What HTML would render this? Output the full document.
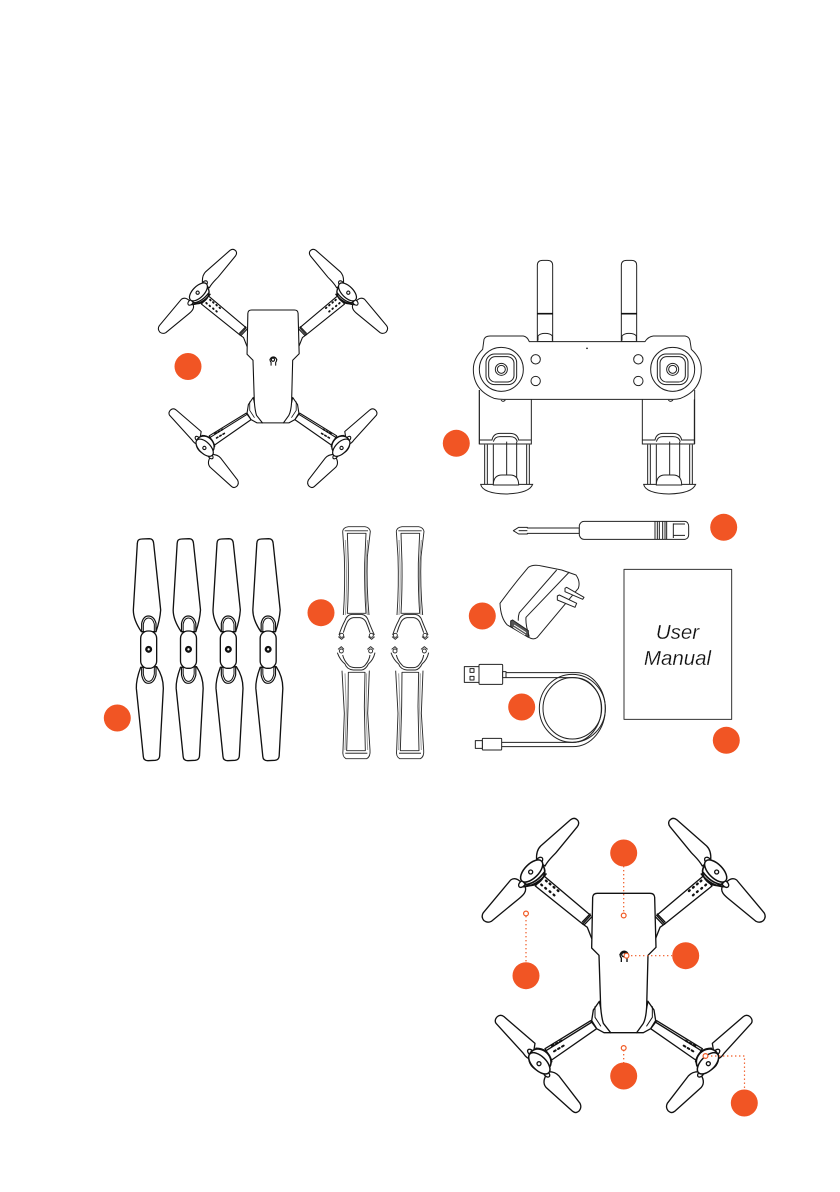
<!DOCTYPE html>
<html><head><meta charset="utf-8"><style>
html,body{margin:0;padding:0;background:#fff}
svg{display:block}
text{font-family:"Liberation Sans",sans-serif;font-style:italic;font-size:20.5px;fill:#111;text-anchor:middle;stroke:#fff;stroke-width:.22}
</style></head><body>
<svg width="840" height="1192" viewBox="0 0 840 1192" xmlns="http://www.w3.org/2000/svg">
<defs>
<g id="half" fill="#fff" stroke="#111" stroke-linejoin="round" stroke-linecap="round">
  <!-- front arm -->
  <path d="M192,198 L332,316 L308,342 L166,228Z" stroke-width="4"/>
  <path d="M307,336 L330,312 M314,343 L337,319 M308,342 L322,352 L335,385" stroke-width="4" fill="none"/>
  <path d="M198,212l2,2M209,221l2,2M221,231l2,2M233,241l2,2M184,224l2,2M196,234l2,2M209,244l2,2M221,254l2,2" stroke-width="7" fill="none"/>
  <!-- front blades -->
  <path d="M170,150C168,130 172,118 182,108L272,29Q284,20 294,32Q299,40 292,50L228,128C215,142 205,150 195,168Z" stroke-width="4"/>
  <path d="M124,218C112,205 102,203 92,210L10,308Q2,320 12,332Q22,340 34,334L118,265C130,255 140,245 136,232Z" stroke-width="4"/>
  <ellipse cx="178" cy="152" rx="12" ry="8" transform="rotate(-45 178 152)" stroke-width="4"/>
  <ellipse cx="126" cy="222" rx="12" ry="8" transform="rotate(-45 126 222)" stroke-width="4"/>
  <ellipse cx="160" cy="192" rx="38" ry="30" transform="rotate(-45 160 192)" stroke-width="5"/>
  <path d="M130,230Q170,228 198,192M136,224Q168,220 192,188" fill="none" stroke-width="5"/>
  <ellipse cx="155" cy="183" rx="42" ry="21" transform="rotate(-45 155 183)" stroke-width="4.5"/>
  <circle cx="152" cy="186" r="6" stroke-width="4"/>
  <!-- rear arm -->
  <path d="M195,716 L332,632 L350,656 L215,750Z" stroke-width="4"/>
  <path d="M198,722 L336,636" stroke-width="4" fill="none"/>
  <path d="M216,708l5,-3M228,702l5,-3M240,695l5,-3M222,724l5,-3M234,717l5,-3M246,710l5,-3" stroke-width="6" fill="none"/>
  <!-- rear blades -->
  <path d="M165,700L72,620Q62,612 52,620Q42,630 48,640L130,730C138,742 148,750 158,745Z" stroke-width="4"/>
  <path d="M205,785C222,785 230,790 237,798L300,880Q306,892 298,902Q288,912 278,904L198,832C188,820 190,805 205,785Z" stroke-width="4"/>
  <ellipse cx="152" cy="727" rx="11" ry="7" transform="rotate(45 152 727)" stroke-width="4"/>
  <ellipse cx="200" cy="792" rx="11" ry="7" transform="rotate(45 200 792)" stroke-width="4"/>
  <ellipse cx="180" cy="750" rx="36" ry="30" transform="rotate(45 180 750)" stroke-width="5"/>
  <path d="M168,715Q205,715 215,755" fill="none" stroke-width="5"/>
  <ellipse cx="178" cy="760" rx="40" ry="21" transform="rotate(45 178 760)" stroke-width="4.5"/>
  <circle cx="177" cy="761" r="6" stroke-width="4"/>
  <!-- rear shoulder -->
  <path d="M358,574 L340,600 L335,632 L350,656 L372,668 L392,668 L370,630Z" stroke-width="4"/>
  <path d="M345,590V622L362,648" fill="none" stroke-width="3"/>
</g>
<g id="drone">
  <use href="#half"/>
  <use href="#half" transform="matrix(-1 0 0 1 862 0)"/>
  <path d="M338,262Q339,250 352,250L510,250Q523,250 524,262L528,412L504,436L500,590Q498,625 490,640L470,668L392,668L370,640Q364,620 362,590L357,436L335,414Z" fill="#fff" stroke="#111" stroke-width="4" stroke-linejoin="round"/>
  <path d="M424,456V444A12,12 0 1 1 441,444V456M419,436A14,14 0 0 1 446,436" fill="none" stroke="#111" stroke-width="4"/>
  <circle cx="431" cy="434" r="6" fill="none" stroke="#111" stroke-width="4"/>
</g>
<g id="prop" fill="#fff" stroke="#111" stroke-width="4" stroke-linejoin="round">
  <path d="M112,40Q112,27 125,27L148,26Q160,26 161,40L182,240Q180,270 168,305L124,305Q100,270 100,240Z"/>
  <path d="M122,412Q108,450 109,475L130,680Q131,692 144,692L166,691Q178,690 179,678L190,475Q190,440 170,410Z"/>
  <path d="M125,305V280Q130,258 145,258Q162,258 168,280V305" fill="none" stroke-width="3.5"/>
  <path d="M130,305V282Q134,264 146,264Q158,264 163,282V305" fill="none" stroke-width="3"/>
  <path d="M125,412V435Q130,460 145,460Q162,460 168,435V412" fill="none" stroke-width="3.5"/>
  <path d="M130,412V432Q134,454 146,454Q158,454 163,432V412" fill="none" stroke-width="3"/>
  <rect x="122" y="303" width="48" height="112" rx="22"/>
  <circle cx="146" cy="358" r="7" fill="#fff" stroke-width="7"/>
</g>
<g id="guard" fill="none" stroke="#2a2a2a" stroke-width="2.8" stroke-linejoin="round">
  <!-- upper -->
  <path d="M38,34Q40,22 55,20H105Q118,22 121,34L112,110Q109,200 117,285M38,34L43,110Q46,200 40,285"/>
  <path d="M52,40H108L104,130Q103,210 108,280H52Q56,210 55,130Z"/>
  <path d="M44,32H114" stroke="#777" stroke-width="4"/>
  <path d="M46,60L49,130Q51,210 46,285M113,60L108,130Q106,210 112,285" stroke="#999"/>
  <path d="M27,345Q35,320 45,302Q50,285 65,283H95Q110,285 115,302Q122,320 133,345" stroke-width="3"/>
  <path d="M40,338Q45,320 52,306Q58,295 70,293H90Q102,295 108,306Q114,320 120,338" stroke-width="3"/>
  <circle cx="35" cy="346" r="6"/><circle cx="124" cy="346" r="6"/>
  <path d="M25,350L35,358L44,350M115,350L125,358L134,350"/>
  <!-- lower -->
  <g transform="translate(0,360)">
    <path d="M22,38Q30,60 45,72Q50,88 70,90H95Q108,88 115,72Q130,60 135,38" stroke-width="3"/>
    <path d="M38,45Q42,62 55,75Q60,82 75,83H90Q102,82 108,72Q118,60 120,45" stroke-width="3"/>
    <circle cx="34" cy="33" r="6"/><circle cx="122" cy="33" r="6"/>
    <path d="M24,28L34,20L42,28M112,28L122,20L132,28"/>
    <path d="M36,92L43,220L39,330Q36,350 48,356H110Q122,350 120,330L113,220L118,92"/>
    <path d="M55,97H105L103,200L106,332H50L54,200Z"/>
    <path d="M45,100L49,210L45,330M110,100L108,210L113,330" stroke="#999"/>
    <path d="M46,340H112" stroke="#666" stroke-width="4"/>
  </g>
</g>
<g id="stick" fill="none" stroke="#222" stroke-width="3">
  <circle r="66"/>
  <rect x="-46" y="-46" width="92" height="92" rx="26"/>
  <rect x="-38" y="-38" width="76" height="76" rx="20"/>
  <circle r="18"/><circle r="12"/>
</g>
<g id="handle" fill="#fff" stroke="#222" stroke-width="3">
  <path d="M0,-30V132H156V-2"/>
  <path d="M16,134V252M24,134V252M42,134V252M82,110V225M112,110V252M142,134V252M150,134V252"/>
  <path d="M0,120H38Q42,100 62,100H92Q114,100 118,120H156"/>
  <path d="M42,125Q46,110 62,110H92Q110,110 114,125"/>
  <path d="M4,253H160Q150,280 80,282Q10,280 4,253Z"/>
  <path d="M42,255Q42,225 68,225H92Q118,225 118,255Z"/>
</g>
</defs>

<!-- top drone -->
<use href="#drone" transform="translate(156.6,242.5) scale(.27)"/>

<!-- controller -->
<g transform="translate(440,250) scale(.33333)">
  <g fill="#fff" stroke="#222" stroke-width="3">
    <path d="M292,275V46Q292,31 308,31H322Q338,31 338,46V275Z"/>
    <path d="M544,275V46Q544,31 560,31H574Q590,31 590,46V275Z"/>
    <path d="M294,272V258Q300,250 315,250Q332,250 337,258V272M546,272V258Q552,250 567,250Q584,250 589,258V272" fill="none"/>
  </g>
  <path d="M291,191H339M543,191H591" stroke="#111" stroke-width="5"/>
  <use href="#handle" transform="translate(118,450)"/>
  <use href="#handle" transform="translate(607,450)"/>
  <path d="M118,420V582M764,420V582" stroke="#222" stroke-width="3"/>
  <path d="M132,268Q136,258 150,258L250,258Q262,260 268,275H615Q624,260 640,258L735,258Q748,260 750,272L754,298Q784,325 784,358Q784,420 722,445Q710,448 700,448H190Q176,448 162,445Q100,420 100,358Q100,325 128,298Z" fill="#fff" stroke="#222" stroke-width="3" stroke-linejoin="round"/>
  <path d="M183,450q6,8 13,0M685,450q6,8 14,0" fill="none" stroke="#222" stroke-width="3"/>
  <use href="#stick" transform="translate(184,358)"/>
  <use href="#stick" transform="translate(698,358)"/>
  <g fill="none" stroke="#222" stroke-width="3">
    <circle cx="287" cy="328" r="14"/><circle cx="287" cy="393" r="14"/>
    <circle cx="595" cy="328" r="14"/><circle cx="595" cy="393" r="14"/>
  </g>
  <circle cx="441" cy="295" r="2.5" fill="#111"/>
</g>

<!-- propellers -->
<g transform="translate(100,530) scale(.33333)">
  <use href="#prop"/>
  <use href="#prop" x="119.5"/>
  <use href="#prop" x="239"/>
  <use href="#prop" x="358.5"/>
</g>

<!-- guards -->
<g transform="translate(330,520) scale(.33333)">
  <use href="#guard"/>
  <use href="#guard" x="161"/>
</g>

<!-- accessories -->
<g transform="translate(450,510) scale(.33333)" fill="#fff" stroke="#222" stroke-width="3" stroke-linejoin="round">
  <!-- screwdriver -->
  <path d="M190,62L206,52H232V54H388V70H232V72H206Z"/>
  <path d="M206,62H232" fill="none"/>
  <path d="M388,46Q392,34 402,34H705Q716,36 716,50V74Q716,86 705,88H402Q392,88 388,76Z"/>
  <path d="M615,34V88M622,34V88M628,34V88M638,34V88M645,34V88M650,34V88M670,40V84M670,42H705M670,76H705" fill="none"/>
  <!-- adapter -->
  <path d="M150,280Q190,225 235,172Q250,162 275,168L335,180L378,195Q392,215 385,235L262,382Q252,390 240,384L172,345Q152,325 150,280Z"/>
  <path d="M320,180L208,308Q204,320 205,332M358,186L228,322Q226,345 238,380" fill="none"/>
  <path d="M345,235L350,232L402,262L398,268L345,245ZM322,258L328,255L380,280L375,292L322,270Z"/>
  <path d="M182,333L188,330L235,362L235,382L182,350Z" fill="#555"/>
  <path d="M192,345L228,368M190,352L226,375" stroke="#fff" fill="none"/>
  <!-- USB -->
  <rect x="43" y="470" width="44" height="47" fill="#fff"/>
  <rect x="60" y="476" width="12" height="11" fill="#fff"/>
  <rect x="60" y="499" width="12" height="11" fill="#fff"/>
  <rect x="87" y="463" width="71" height="60" rx="3"/>
  <rect x="158" y="485" width="10" height="18"/>
  <path d="M168,488H378C430,488 466,540 466,596C466,656 425,710 368,710H155M168,503H372C420,503 454,545 454,596C454,650 415,697 368,697H155" fill="none"/>
  <ellipse cx="367" cy="595" rx="99" ry="102" fill="none"/>
  <ellipse cx="367" cy="595" rx="88" ry="92" fill="none"/>
  <rect x="97" y="685" width="58" height="35" rx="2"/>
  <rect x="76" y="692" width="21" height="23"/>
  <!-- manual -->
  <rect x="522" y="178" width="323" height="450" fill="#fff" stroke="#333"/>
</g>
<text x="677.5" y="639">User</text>
<text x="677.5" y="665">Manual</text>

<!-- bottom drone -->
<g transform="translate(480,810) scale(.33333)"><use href="#drone"/></g>

<!-- dotted connectors -->
<g fill="none" stroke="#f15a24" stroke-width="1.2" stroke-dasharray="1.4 2.6">
  <path d="M623.7,866V913"/>
  <path d="M526,916V962"/>
  <path d="M627,955.7H672"/>
  <path d="M623.7,1050V1063"/>
  <path d="M707,1056H744.5V1090"/>
</g>
<g fill="#fff" stroke="#f15a24" stroke-width="1.2">
  <circle cx="623.7" cy="915.5" r="2.4"/>
  <circle cx="526" cy="913.5" r="2.4"/>
  <circle cx="626.5" cy="955.7" r="2.4"/>
  <circle cx="623.7" cy="1048" r="2.4"/>
  <circle cx="705.5" cy="1056" r="2.4"/>
</g>

<!-- orange badges -->
<g fill="#f15524">
  <circle cx="188" cy="366.5" r="13.5"/>
  <circle cx="456.3" cy="443.3" r="13.5"/>
  <circle cx="117.3" cy="718" r="13.5"/>
  <circle cx="321" cy="612.7" r="13.5"/>
  <circle cx="723.7" cy="527.3" r="13.5"/>
  <circle cx="482.3" cy="616" r="13.5"/>
  <circle cx="521.7" cy="707" r="13.5"/>
  <circle cx="726.3" cy="740.3" r="13.5"/>
  <circle cx="623.7" cy="853" r="13.5"/>
  <circle cx="685.7" cy="955.7" r="13.5"/>
  <circle cx="526" cy="975.7" r="13.5"/>
  <circle cx="623.7" cy="1076" r="13.5"/>
  <circle cx="744.3" cy="1103" r="13.5"/>
</g>
</svg>
</body></html>
